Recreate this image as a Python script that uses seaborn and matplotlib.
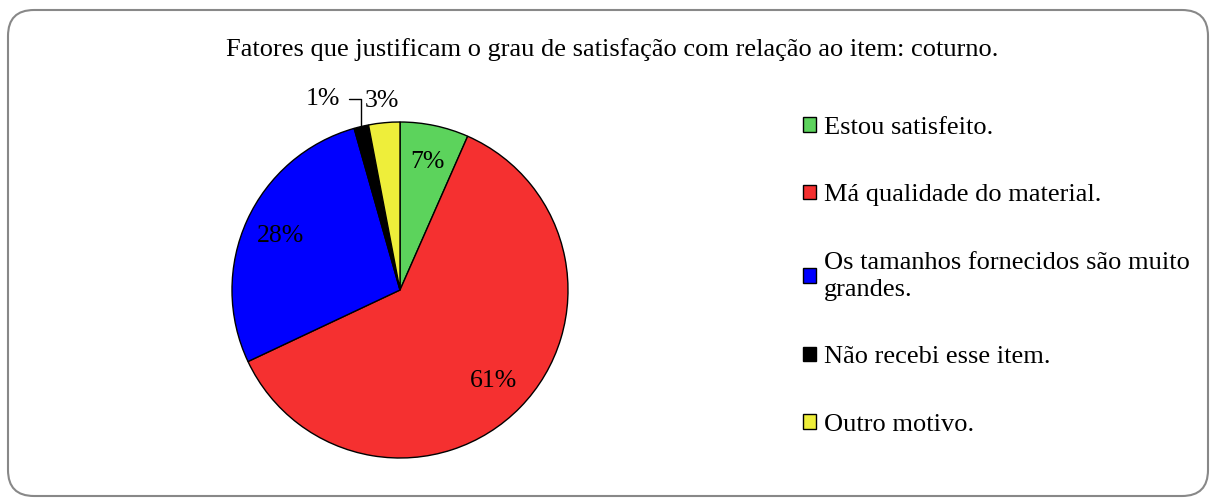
import matplotlib as mpl
mpl.use("Agg")
import matplotlib.pyplot as plt
import matplotlib.patches as mpatches
import matplotlib.transforms as mtransforms
import numpy as np
import seaborn as sns

categories = [
    "Estou satisfeito.",
    "Má qualidade do material.",
    "Os tamanhos fornecidos são muito\ngrandes.",
    "Não recebi esse item.",
    "Outro motivo.",
]
shares = [6.6, 61.4, 27.6, 1.4, 3.0]
colors = ["#5CD35C", "#F53030", "#0000FF", "#000000", "#EEEE3A"]
title = "Fatores que justificam o grau de satisfação com relação ao item: coturno."

sns.set_theme(style="white")
mpl.rcParams.update(
    {
        "font.family": ["Liberation Serif", "DejaVu Serif"],
        "font.size": 18.5,
        "text.color": "black",
    }
)

fig = plt.figure(figsize=(12.16, 5.04), dpi=100)
ax = fig.add_axes([400 / 1216 - 168 / 1216, (504 - 290 - 168) / 504, 336 / 1216, 336 / 504])

palette = sns.color_palette(colors)
wedges, _ = ax.pie(
    shares,
    colors=palette,
    startangle=90,
    counterclock=False,
    radius=1.0,
    wedgeprops={"edgecolor": "black", "linewidth": 1.0},
)
ax.set_xlim(-1, 1)
ax.set_ylim(-1, 1)
ax.set_aspect("equal")
ax.axis("off")

# percentage labels
for i, w in enumerate(wedges):
    mid = np.deg2rad((w.theta1 + w.theta2) / 2)
    txt = "%d%%" % round(shares[i])
    if i == 3:
        tip = (np.cos(mid), np.sin(mid))
        ax.annotate(
            txt, xy=tip, xytext=(-0.46, 1.135), ha="center", va="center",
            fontsize=18.5, color="black",
            arrowprops=dict(arrowstyle="-", color="black", lw=1.0,
                            connectionstyle="angle,angleA=0,angleB=90,rad=0",
                            shrinkA=4, shrinkB=0),
        )
    elif i == 4:
        r = 1.13
        ax.text(r * np.cos(mid), r * np.sin(mid), txt, ha="center", va="center",
                fontsize=18.5, color="black")
    else:
        r = 0.78
        ax.text(r * np.cos(mid), r * np.sin(mid), txt, ha="center", va="center",
                fontsize=18.5, color="black")

fig.text(612 / 1216, 1 - 50 / 504, title, ha="center", va="center", fontsize=19)

handles = [mpatches.Patch(facecolor=c, edgecolor="black", linewidth=1.0) for c in colors]
leg = fig.legend(
    handles, categories,
    loc="upper left", bbox_to_anchor=(803 / 1216, 1 - 117 / 504),
    frameon=False, fontsize=19,
    handlelength=0.48, handleheight=0.48, handletextpad=0.3,
    labelspacing=1.72, borderpad=0, borderaxespad=0,
)
leg.get_texts()[2].set_linespacing(1.3)

border = mpatches.FancyBboxPatch(
    (8, 8), 1200, 486,
    boxstyle="round,pad=0,rounding_size=26",
    transform=mtransforms.IdentityTransform(),
    facecolor="none", edgecolor="#888888", linewidth=1.5,
)
fig.patches.append(border)

fig.savefig("out.png", dpi=100, facecolor="white")
